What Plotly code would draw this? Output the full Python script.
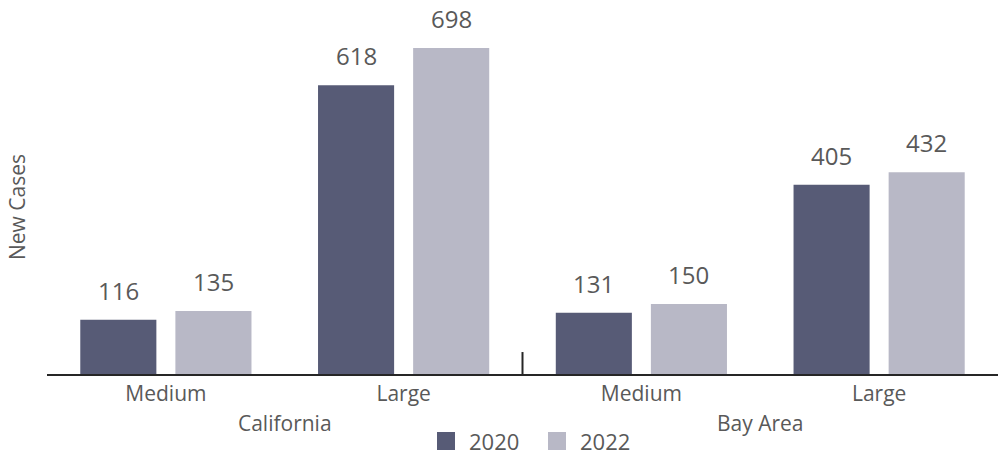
import plotly.graph_objects as go

regions = ["California", "California", "Bay Area", "Bay Area"]
sizes = ["Medium", "Large", "Medium", "Large"]
series_names = ["2020", "2022"]
values_2020 = [116, 618, 131, 405]
values_2022 = [135, 698, 150, 432]
colors = ["#575b76", "#b8b8c6"]

FONT = "Open Sans"
TXT = "#595959"

W, H = 998, 455
ML, MR, MT, MB = 47, 0, 40, 81
PW, PH = W - ML - MR, H - MT - MB


def px_x(x):
    return (x - ML) / PW


def px_y(y):
    return (H - MB - y) / PH


fig = go.Figure()
offsets = [-0.2, 0.2]
for name, vals, col, off in zip(series_names, [values_2020, values_2022], colors, offsets):
    fig.add_trace(go.Bar(
        x=[regions, sizes], y=vals, name=name,
        marker=dict(color=col, line=dict(width=0)),
        showlegend=False,
    ))
    for i, v in enumerate(vals):
        fig.add_annotation(x=i + off, y=v, xref="x", yref="y", text=str(v),
                           showarrow=False, yanchor="bottom", yshift=11,
                           font=dict(family=FONT, size=24, color=TXT))

fig.add_shape(type="line", xref="paper", yref="y", x0=0.5, x1=0.5, y0=0, y1=47,
              line=dict(color="#262626", width=2))

# y-axis title
fig.add_annotation(x=px_x(17), y=px_y(207), xref="paper", yref="paper", text="New Cases",
                   textangle=-90, showarrow=False, xanchor="center", yanchor="middle",
                   font=dict(family=FONT, size=21, color=TXT))

# legend (manual, square swatches)
legend_items = [(437, 470), (548, 581)]
for (sx, tx), name, col in zip(legend_items, series_names, colors):
    fig.add_shape(type="rect", xref="paper", yref="paper",
                  x0=px_x(sx), x1=px_x(sx + 18), y0=px_y(450), y1=px_y(432),
                  line=dict(width=0), fillcolor=col)
    fig.add_annotation(x=px_x(tx - 3), y=px_y(441), xref="paper", yref="paper", text=name,
                       showarrow=False, xanchor="left", yanchor="middle",
                       font=dict(family=FONT, size=22, color=TXT))

fig.update_layout(
    width=W, height=H,
    margin=dict(l=ML, r=MR, t=MT, b=MB, autoexpand=False),
    paper_bgcolor="white", plot_bgcolor="white",
    barmode="group", bargap=0.2, bargroupgap=0.2,
    font=dict(family=FONT, color=TXT),
    showlegend=False,
    xaxis=dict(showline=True, linecolor="#262626", linewidth=2, showgrid=False,
               showdividers=False, ticks="", automargin=False,
               tickfont=dict(family=FONT, size=21, color=TXT)),
    yaxis=dict(range=[0, 715], showticklabels=False, showgrid=False, zeroline=False,
               showline=False, ticks="", automargin=False),
)

fig.write_html("out.html", config={"displayModeBar": False},
               post_script="document.body.style.margin='0';document.body.style.padding='0';")
